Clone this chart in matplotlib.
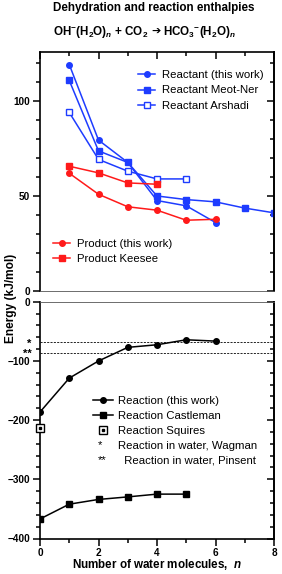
import matplotlib.pyplot as plt
import matplotlib.transforms as mtransforms
from matplotlib.legend_handler import HandlerBase
from matplotlib.lines import Line2D
from matplotlib.text import Text
from matplotlib.ticker import MultipleLocator

plt.rcParams["font.family"] = ["Liberation Sans", "DejaVu Sans"]
plt.rcParams["mathtext.fontset"] = "custom"
plt.rcParams["mathtext.rm"] = "Liberation Sans:bold"
plt.rcParams["mathtext.bf"] = "Liberation Sans:bold"
plt.rcParams["mathtext.it"] = "Liberation Sans:italic:bold"

BLUE = "#1e3cff"
RED = "#ff1a1a"

# top panel: dehydration enthalpies (kJ/mol)
n_react_this = [1, 2, 3, 4, 5, 6]
react_this = [119.4, 79.5, 67.7, 47.6, 44.8, 36.0]
n_meot = [1, 2, 3, 4, 5, 6, 7, 8]
react_meot = [111.0, 73.8, 67.7, 50.0, 48.1, 46.9, 43.6, 41.1]
n_arshadi = [1, 2, 3, 4, 5]
react_arshadi = [94.1, 69.3, 63.1, 59.0, 59.0]
n_prod_this = [1, 2, 3, 4, 5, 6]
prod_this = [62.0, 50.9, 44.3, 42.5, 37.2, 37.7]
n_keesee = [1, 2, 3, 4]
prod_keesee = [65.7, 62.2, 56.9, 56.2]

# bottom panel: reaction enthalpies (kJ/mol)
n_rxn_this = [0, 1, 2, 3, 4, 5, 6]
rxn_this = [-186.3, -129.0, -100.0, -77.0, -72.6, -64.2, -66.4]
n_castleman = [0, 1, 2, 3, 4, 5]
rxn_castleman = [-367.0, -342.0, -334.0, -329.7, -325.0, -325.0]
n_squires = [0]
rxn_squires = [-212.6]
water_wagman = -68.6
water_pinsent = -86.0


class TextHandler(HandlerBase):
    """Legend handle that is just a piece of text (the * and ** keys)."""

    def __init__(self, s):
        super().__init__()
        self.s = s

    def create_artists(self, legend, orig_handle, xdescent, ydescent,
                       width, height, fontsize, trans):
        t = Text(0.25 * width - xdescent, 0.5 * height - ydescent, self.s,
                 ha="left", va="center", fontsize=fontsize)
        t.set_transform(trans)
        return [t]


fig = plt.figure(figsize=(2.82, 5.74), dpi=100)
W, H = 282, 574
left, right = 40 / W, 274 / W
ax1 = fig.add_axes([left, 1 - 290.7 / H, right - left, (290.7 - 52) / H])
ax2 = fig.add_axes([left, 1 - 538.5 / H, right - left, (538.5 - 301.8) / H])

ms = 4
lw = 1.1
ax1.plot(n_react_this, react_this, "-o", color=BLUE, ms=ms, lw=lw,
         label="Reactant (this work)")
ax1.plot(n_meot, react_meot, "-s", color=BLUE, ms=ms - 0.3, lw=lw,
         label="Reactant Meot-Ner")
ax1.plot(n_arshadi, react_arshadi, "-s", color=BLUE, mfc="white", mew=1.0,
         ms=ms + 0.6, lw=lw, label="Reactant Arshadi")
l_pt, = ax1.plot(n_prod_this, prod_this, "-o", color=RED, ms=ms, lw=lw,
                 label="Product (this work)")
l_pk, = ax1.plot(n_keesee, prod_keesee, "-s", color=RED, ms=ms - 0.3, lw=lw,
                 label="Product Keesee")

ax2.axhline(water_wagman, color="k", ls=(0, (2.5, 1.5)), lw=0.6)
ax2.axhline(water_pinsent, color="k", ls=(0, (2.5, 1.5)), lw=0.6)
l_rt, = ax2.plot(n_rxn_this, rxn_this, "-o", color="k", ms=ms, lw=lw)
l_rc, = ax2.plot(n_castleman, rxn_castleman, "-s", color="k", ms=ms - 0.3,
                 lw=lw)
l_sq, = ax2.plot(n_squires, rxn_squires, "s", color="k", mfc="white",
                 mew=1.0, ms=ms + 2.4, clip_on=False, zorder=5)
l_sd, = ax2.plot(n_squires, rxn_squires, "s", color="k", ms=1.6,
                 clip_on=False, zorder=6)

for ax in (ax1, ax2):
    ax.set_xlim(0, 8)
    ax.spines["left"].set_linewidth(1.2)
    ax.spines["right"].set_linewidth(1.2)
    ax.tick_params(axis="y", which="both", left=True, right=True,
                   width=1.1, labelsize=7.2, pad=2)
    ax.tick_params(axis="y", which="major", length=5)
    ax.tick_params(axis="y", which="minor", length=3)
    for lab in ax.get_yticklabels():
        lab.set_fontweight("bold")

ax1.set_ylim(0, 126)
ax1.yaxis.set_major_locator(MultipleLocator(50))
ax1.yaxis.set_minor_locator(MultipleLocator(10))
ax1.spines["bottom"].set_color("#555555")
ax1.spines["bottom"].set_linewidth(0.6)
ax1.spines["top"].set_linewidth(1.2)
ax1.xaxis.set_major_locator(MultipleLocator(2))
ax1.xaxis.set_minor_locator(MultipleLocator(1))
ax1.tick_params(axis="x", which="both", bottom=False, labelbottom=False,
                top=True, direction="in", width=1.1)
ax1.tick_params(axis="x", which="major", length=5)
ax1.tick_params(axis="x", which="minor", length=3)
ax1.tick_params(axis="y", which="both", direction="out")
ax1.yaxis.set_tick_params(which="both", right=False)
ax1r = ax1.secondary_yaxis("right")
ax1r.yaxis.set_major_locator(MultipleLocator(50))
ax1r.yaxis.set_minor_locator(MultipleLocator(10))
ax1r.tick_params(which="both", direction="in", labelright=False, width=1.1)
ax1r.tick_params(which="major", length=5)
ax1r.tick_params(which="minor", length=3)
ax1r.spines["right"].set_linewidth(1.2)

ax2.set_ylim(-400, 0)
ax2.yaxis.set_major_locator(MultipleLocator(100))
ax2.yaxis.set_minor_locator(MultipleLocator(20))
ax2.spines["top"].set_color("#555555")
ax2.spines["top"].set_linewidth(0.6)
ax2.spines["bottom"].set_linewidth(1.2)
ax2.xaxis.set_major_locator(MultipleLocator(2))
ax2.xaxis.set_minor_locator(MultipleLocator(1))
ax2.tick_params(axis="x", which="both", direction="out", width=1.1,
                labelsize=7.2, pad=1.5)
ax2.tick_params(axis="x", which="major", length=5)
ax2.tick_params(axis="x", which="minor", length=3)
for lab in ax2.get_xticklabels():
    lab.set_fontweight("bold")
ax2.tick_params(axis="y", which="both", direction="out")
ax2.yaxis.set_tick_params(which="both", right=False)
ax2r = ax2.secondary_yaxis("right")
ax2r.yaxis.set_major_locator(MultipleLocator(100))
ax2r.yaxis.set_minor_locator(MultipleLocator(20))
ax2r.tick_params(which="both", direction="in", labelright=False, width=1.1)
ax2r.tick_params(which="major", length=5)
ax2r.tick_params(which="minor", length=3)
ax2r.spines["right"].set_linewidth(1.2)

# star markers next to the dashed lines (one two-line text)
trans = mtransforms.blended_transform_factory(ax2.transAxes, ax2.transData)
ax2.text(-0.035, (water_wagman + water_pinsent) / 2 - 2, "*\n**",
         transform=trans, ha="right", va="center", multialignment="right",
         linespacing=0.95, fontsize=8, fontweight="bold")

# legends
leg_kw = dict(frameon=False, loc="center left", borderpad=0,
              borderaxespad=0, bbox_transform=fig.transFigure,
              prop={"size": 8.2}, labelspacing=0.48, handletextpad=0.6)
h1, lb1 = ax1.get_legend_handles_labels()
leg1 = ax1.legend(h1[:3], lb1[:3], bbox_to_anchor=(138 / W, 1 - 90.5 / H),
                  handlelength=1.5, **leg_kw)
ax1.add_artist(leg1)
ax1.legend([l_pt, l_pk], ["Product (this work)", "Product Keesee"],
           bbox_to_anchor=(53 / W, 1 - 251.7 / H), handlelength=1.5,
           **leg_kw)

star1 = Line2D([], [])
star2 = Line2D([], [])
ax2.legend([l_rt, l_rc, (l_sq, l_sd), star1, star2],
           ["Reaction (this work)", "Reaction Castleman", "Reaction Squires",
            "Reaction in water, Wagman", "  Reaction in water, Pinsent"],
           bbox_to_anchor=(93 / W, 1 - 431 / H), handlelength=1.75,
           handler_map={star1: TextHandler("*"), star2: TextHandler("**")},
           **{**leg_kw, "labelspacing": 0.42, "handletextpad": 0.45})

fig.text(154 / W, 1 - 8.5 / H, "Dehydration and reaction enthalpies",
         ha="center", va="center", fontsize=8.4, fontweight="bold")
fig.text(148 / W, 1 - 31.5 / H, r"OH$^{-}$(H$_2$O)$_{\mathit{n}}$ + CO$_2$",
         ha="right", va="center", fontsize=8.4, fontweight="bold")
fig.text(156 / W, 1 - 32 / H, "➔", ha="center", va="center",
         fontsize=8, fontweight="bold", family="DejaVu Sans")
fig.text(163 / W, 1 - 31.5 / H,
         r"HCO$_3$$^{-}$(H$_2$O)$_{\mathit{n}}$",
         ha="left", va="center", fontsize=8.4, fontweight="bold")
fig.text(11 / W, 1 - 298 / H, "Energy (kJ/mol)", rotation=90, ha="center",
         va="center", fontsize=8.6, fontweight="bold")
fig.text(157 / W, 1 - 564.5 / H, r"Number of water molecules,  $\mathit{n}$",
         ha="center", va="center", fontsize=8.4, fontweight="bold")

fig.savefig("out.png", dpi=100)
